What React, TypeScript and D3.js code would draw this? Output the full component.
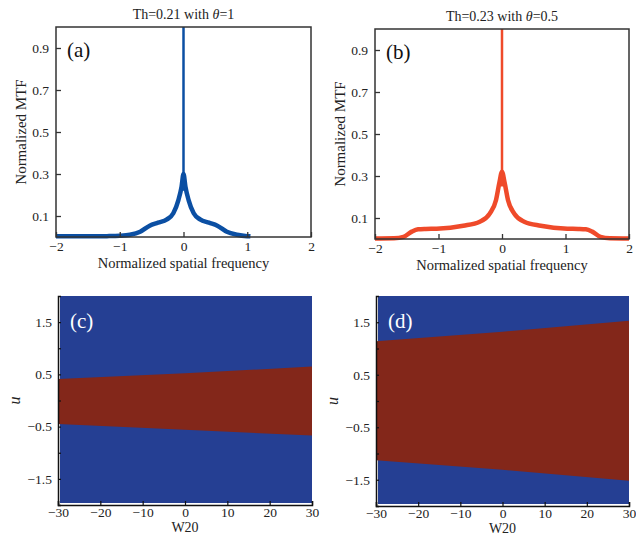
import React, { useEffect, useRef } from 'react';
import * as d3 from 'd3';

// MTF curves (centre of the thick band)
const freqA = [-2, -1.5, -1.2, -1.0, -0.84, -0.68, -0.53, -0.4, -0.26, -0.16, -0.08, -0.03, 0, 0.03, 0.08, 0.16, 0.26, 0.4, 0.53, 0.68, 0.84, 1.0, 1.05];
const mtfA = [0.003, 0.003, 0.004, 0.006, 0.011, 0.025, 0.054, 0.068, 0.084, 0.113, 0.176, 0.24, 0.3, 0.24, 0.176, 0.113, 0.084, 0.068, 0.054, 0.025, 0.011, 0.004, 0.003];
const peakFreqA = [0, 0];
const peakMtfA = [0.22, 1];

const freqB = [-2, -1.7, -1.55, -1.42, -1.32, -1.2, -1.03, -0.61, -0.35, -0.19, -0.094, -0.04, 0, 0.04, 0.094, 0.19, 0.35, 0.61, 1.03, 1.2, 1.32, 1.42, 1.55, 1.7, 2];
const mtfB = [0.002, 0.003, 0.01, 0.035, 0.046, 0.048, 0.049, 0.063, 0.082, 0.122, 0.186, 0.27, 0.32, 0.27, 0.186, 0.122, 0.082, 0.063, 0.049, 0.048, 0.046, 0.035, 0.01, 0.003, 0.002];
const peakFreqB = [0, 0];
const peakMtfB = [0.25, 1];

// band boundaries of the contour maps
const w20 = [-30, 0, 30];
const upperC = [0.41, 0.52, 0.65];
const lowerC = [-0.45, -0.56, -0.67];
const upperD = [1.14, 1.32, 1.53];
const lowerD = [-1.13, -1.31, -1.52];

const mtfTicks = [0.1, 0.3, 0.5, 0.7, 0.9];
const freqTicks = [-2, -1, 0, 1, 2];
const uTicks = [-1.5, -1, -0.5, 0, 0.5, 1, 1.5];
const w20Ticks = [-30, -20, -10, 0, 10, 20, 30];

const FONT = '"Liberation Serif", "DejaVu Serif", serif';
const BLUE = '#253f93';
const RED = '#83271a';

function drawMtf(svg, o) {
    const x = d3.scaleLinear().domain([-2, 2]).range([o.x0, o.x1]);
    const y = d3.scaleLinear().domain([0, 1]).range([o.yBot, o.yTop]);
    const g = svg.append('g');

    const line = d3.line().x(d => x(d[0])).y(d => y(d[1])).curve(d3.curveMonotoneX);
    g.append('path')
        .attr('d', line(o.freq.map((f, i) => [f, o.mtf[i]])))
        .attr('fill', 'none')
        .attr('stroke', o.color)
        .attr('stroke-width', 4.5)
        .attr('stroke-linejoin', 'round');
    g.append('path')
        .attr('d', d3.line().x(d => x(d[0])).y(d => y(d[1]))(o.peakF.map((f, i) => [f, o.peakM[i]])))
        .attr('stroke', o.color)
        .attr('stroke-width', 2.5);

    g.append('rect')
        .attr('x', o.x0).attr('y', o.yTop)
        .attr('width', o.x1 - o.x0).attr('height', o.yBot - o.yTop)
        .attr('fill', 'none').attr('stroke', '#333').attr('stroke-width', 1.5);

    const ya = g.append('g').attr('transform', `translate(${o.x0},0)`)
        .call(d3.axisLeft(y).tickValues(mtfTicks).tickFormat(d3.format('.1f')).tickSize(-5).tickPadding(7));
    const xa = g.append('g').attr('transform', `translate(0,${o.yBot})`)
        .call(d3.axisBottom(x).tickValues(freqTicks).tickFormat(d3.format('d')).tickSize(-5).tickPadding(4.5));
    [ya, xa].forEach(a => {
        a.select('.domain').remove();
        a.selectAll('line').attr('stroke', '#333').attr('stroke-width', 1.3);
        a.selectAll('text').attr('font-family', FONT).attr('font-size', 13.5).attr('fill', '#222');
    });

    const cx = (o.x0 + o.x1) / 2;
    const t = g.append('text').attr('x', cx).attr('y', o.titleY)
        .attr('text-anchor', 'middle').attr('font-family', FONT).attr('font-size', 14).attr('fill', '#222');
    t.append('tspan').text(o.title[0]);
    t.append('tspan').attr('font-style', 'italic').text('θ');
    t.append('tspan').text(o.title[1]);

    g.append('text').attr('x', cx).attr('y', o.yBot + 31)
        .attr('text-anchor', 'middle').attr('font-family', FONT).attr('font-size', 14.5).attr('fill', '#222')
        .text('Normalized spatial frequency');
    g.append('text')
        .attr('transform', `translate(${o.x0 - 30},${(o.yTop + o.yBot) / 2}) rotate(-90)`)
        .attr('text-anchor', 'middle').attr('font-family', FONT).attr('font-size', 15).attr('fill', '#222')
        .text('Normalized MTF');
    g.append('text').attr('x', o.x0 + 11).attr('y', o.yTop + 30)
        .attr('font-family', FONT).attr('font-size', 21).attr('fill', '#111').text(o.tag);
}

function drawMap(svg, o) {
    const x = d3.scaleLinear().domain([-30, 30]).range([o.x0, o.x1]);
    const y = d3.scaleLinear().domain([-2, 2]).range([o.yBot, o.yTop]);
    const g = svg.append('g');

    g.append('rect')
        .attr('x', o.x0 + 2).attr('y', o.yTop)
        .attr('width', o.x1 - o.x0 - 2).attr('height', o.yBot - o.yTop - 2)
        .attr('fill', BLUE);
    const area = d3.area().x(d => x(d[0])).y0(d => y(d[1])).y1(d => y(d[2]));
    g.append('path')
        .attr('d', area(w20.map((w, i) => [w, o.lower[i], o.upper[i]])))
        .attr('fill', RED);

    const ya = g.append('g').attr('transform', `translate(${o.x0},0)`)
        .call(d3.axisLeft(y).tickValues(uTicks)
            .tickFormat(d => (Number.isInteger(d) ? '' : d3.format('.1f')(d))).tickSize(-3).tickPadding(6));
    const xa = g.append('g').attr('transform', `translate(0,${o.yBot})`)
        .call(d3.axisBottom(x).tickValues(w20Ticks).tickFormat(d3.format('d')).tickSize(-4).tickPadding(2));
    [ya, xa].forEach(a => {
        a.select('.domain').attr('stroke', '#111').attr('stroke-width', 1.5);
        a.selectAll('line').attr('stroke', '#111').attr('stroke-width', 1.2);
        a.selectAll('text').attr('font-family', FONT).attr('font-size', 13.5).attr('fill', '#222');
    });

    g.append('text').attr('x', (o.x0 + o.x1) / 2).attr('y', o.yBot + 27)
        .attr('text-anchor', 'middle').attr('font-family', FONT).attr('font-size', 14).attr('fill', '#222')
        .text('W20');
    g.append('text')
        .attr('transform', `translate(${o.x0 - 38},${(o.yTop + o.yBot) / 2}) rotate(-90)`)
        .attr('text-anchor', 'middle').attr('font-family', FONT).attr('font-size', 16)
        .attr('font-style', 'italic').attr('fill', '#222')
        .text('u');
    g.append('text').attr('x', o.x0 + 12).attr('y', o.yTop + 32)
        .attr('font-family', FONT).attr('font-size', 21).attr('fill', '#fff').text(o.tag);
}

export default function App() {
    const ref = useRef(null);

    useEffect(() => {
        const svg = d3.select(ref.current);
        svg.selectAll('*').remove();

        drawMtf(svg, {
            x0: 56, x1: 311, yTop: 27, yBot: 237, titleY: 19,
            freq: freqA, mtf: mtfA, peakF: peakFreqA, peakM: peakMtfA,
            color: '#0b4fa3', title: ['Th=0.21 with ', '=1'], tag: '(a)'
        });
        drawMtf(svg, {
            x0: 375, x1: 629, yTop: 29, yBot: 239, titleY: 21,
            freq: freqB, mtf: mtfB, peakF: peakFreqB, peakM: peakMtfB,
            color: '#ef4a2a', title: ['Th=0.23 with ', '=0.5'], tag: '(b)'
        });
        drawMap(svg, { x0: 58, x1: 312, yTop: 296, yBot: 505, upper: upperC, lower: lowerC, tag: '(c)' });
        drawMap(svg, { x0: 376, x1: 629, yTop: 296, yBot: 506, upper: upperD, lower: lowerD, tag: '(d)' });
    }, []);

    return (
        <div style={{ position: 'absolute', left: 0, top: 0 }}>
            <svg ref={ref} width={636} height={538} style={{ display: 'block', background: '#fff' }} />
        </div>
    );
}
